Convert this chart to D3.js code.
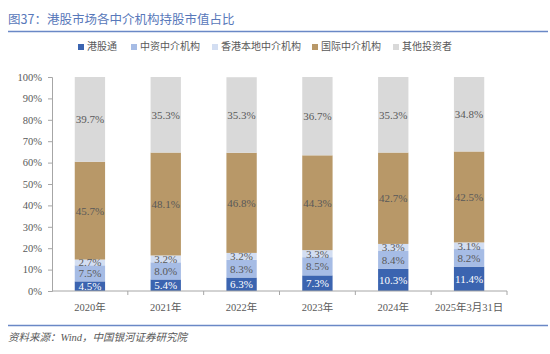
<!DOCTYPE html>
<html>
<head>
<meta charset="utf-8">
<script src="https://cdn.jsdelivr.net/npm/d3@7"></script>
<style>
body { margin: 0; background: #fff; }
svg { font-family: "Liberation Serif", "Noto Sans CJK SC", serif; }
</style>
</head>
<body>
<svg id="chart" width="550" height="354"></svg>
<script>
// categories and series
var years = ["2020年", "2021年", "2022年", "2023年", "2024年", "2025年3月31日"];
var seriesNames = ["港股通", "中资中介机构", "香港本地中介机构", "国际中介机构", "其他投资者"];
var hkConnect = [4.5, 5.4, 6.3, 7.3, 10.3, 11.4];
var chinaBrokers = [7.5, 8.0, 8.3, 8.5, 8.4, 8.2];
var hkLocal = [2.7, 3.2, 3.2, 3.3, 3.3, 3.1];
var intlBrokers = [45.7, 48.1, 46.8, 44.3, 42.7, 42.5];
var others = [39.7, 35.3, 35.3, 36.7, 35.3, 34.8];
var yTicks = [0, 10, 20, 30, 40, 50, 60, 70, 80, 90, 100];

var colors = ["#3b64b0", "#a6bce5", "#d3def2", "#b89868", "#d9d9d9"];
var labelColors = ["#ffffff", "#595959", "#595959", "#595959", "#595959"];

var svg = d3.select("#chart");

// title
svg.append("text")
    .attr("x", 8).attr("y", 24)
    .attr("font-size", 12.5)
    .attr("fill", "#5878ba")
    .attr("font-family", "Noto Sans CJK SC")
    .text("图37：港股市场各中介机构持股市值占比");
svg.append("line")
    .attr("x1", 8).attr("x2", 548).attr("y1", 31.5).attr("y2", 31.5)
    .attr("stroke", "#6a88c6").attr("stroke-width", 1.5);

// table for stacking
var table = years.map(function (y, i) {
    return {year: y, s0: hkConnect[i], s1: chinaBrokers[i], s2: hkLocal[i], s3: intlBrokers[i], s4: others[i]};
});
var keys = ["s0", "s1", "s2", "s3", "s4"];
var stacked = d3.stack().keys(keys)(table);

var x = d3.scaleBand().domain(years).range([52, 507]).paddingInner(0.6).paddingOuter(0.3);
var y = d3.scaleLinear().domain([0, 100]).range([291, 77]);

// bars
var layers = svg.append("g").selectAll("g")
    .data(stacked).enter().append("g")
    .attr("fill", function (d, i) { return colors[i]; });

layers.selectAll("rect")
    .data(function (d) { return d; })
    .enter().append("rect")
    .attr("x", function (d) { return x(d.data.year); })
    .attr("width", x.bandwidth())
    .attr("y", function (d) { return y(Math.min(d[1], 100)); })
    .attr("height", function (d) { return y(d[0]) - y(Math.min(d[1], 100)); });

// labels
stacked.forEach(function (layer, li) {
    svg.append("g").selectAll("text")
        .data(layer).enter().append("text")
        .attr("x", function (d) { return x(d.data.year) + x.bandwidth() / 2; })
        .attr("y", function (d) { return y((d[0] + Math.min(d[1], 100)) / 2) + 4; })
        .attr("text-anchor", "middle")
        .attr("font-size", 11)
        .attr("fill", labelColors[li])
        .text(function (d) { return d.data[layer.key].toFixed(1) + "%"; });
});

// y axis
var yAxis = svg.append("g")
    .attr("transform", "translate(52,0)")
    .call(d3.axisLeft(y).tickValues(yTicks).tickSize(4).tickPadding(6)
        .tickFormat(function (d) { return d + "%"; }));
yAxis.selectAll("text").attr("font-size", 10.5).attr("fill", "#595959")
    .attr("font-family", "Liberation Serif");
yAxis.selectAll("line").attr("stroke", "#a6a6a6");
yAxis.select(".domain").attr("stroke", "#a6a6a6");

// x axis with ticks at band boundaries
var xAxis = svg.append("g").attr("transform", "translate(0,291)");
xAxis.append("line").attr("x1", 52).attr("x2", 507).attr("stroke", "#a6a6a6");
var step = x.step();
xAxis.selectAll(".tk").data(years).enter().append("line")
    .attr("x1", function (d) { return x(d) - x.paddingInner() * step / 2 + step; })
    .attr("x2", function (d) { return x(d) - x.paddingInner() * step / 2 + step; })
    .attr("y1", 0).attr("y2", 4)
    .attr("stroke", "#a6a6a6");
xAxis.selectAll("text").data(years).enter().append("text")
    .attr("x", function (d) { return x(d) + x.bandwidth() / 2; })
    .attr("y", 20)
    .attr("text-anchor", "middle")
    .attr("font-size", 10.5)
    .attr("fill", "#595959")
    .text(function (d) { return d; });

// legend
var legendX = [78, 131, 212, 312, 393];
var legend = svg.append("g").selectAll("g")
    .data(seriesNames).enter().append("g")
    .attr("transform", function (d, i) { return "translate(" + legendX[i] + ",50)"; });
legend.append("rect")
    .attr("x", 0).attr("y", -6).attr("width", 6).attr("height", 6)
    .attr("fill", function (d, i) { return colors[i]; });
legend.append("text")
    .attr("x", 9).attr("y", 0)
    .attr("font-size", 10)
    .attr("font-family", "Noto Sans CJK SC")
    .attr("fill", "#595959")
    .text(function (d) { return d; });

// footer
svg.append("line")
    .attr("x1", 8).attr("x2", 548).attr("y1", 325.5).attr("y2", 325.5)
    .attr("stroke", "#6a88c6").attr("stroke-width", 1.5);
svg.append("text")
    .attr("x", 8).attr("y", 341)
    .attr("font-size", 10.5)
    .attr("font-style", "italic")
    .attr("fill", "#595959")
    .text("资料来源：Wind，中国银河证券研究院");
</script>
</body>
</html>
